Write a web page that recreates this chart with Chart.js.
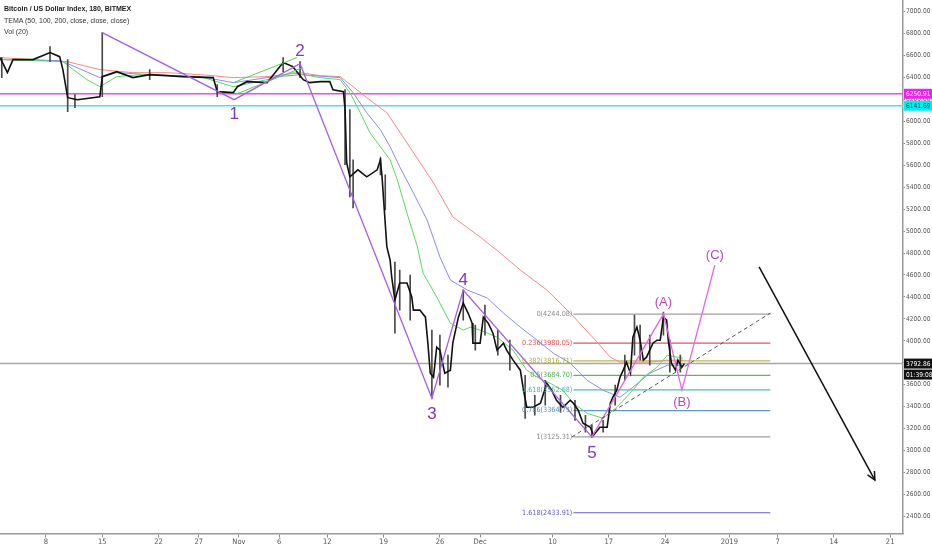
<!DOCTYPE html>
<html>
<head>
<meta charset="utf-8">
<script src="https://cdn.jsdelivr.net/npm/chart.js@4.4.1/dist/chart.umd.min.js"></script>
<style>
  html, body { margin: 0; padding: 0; background: #fff; overflow: hidden; }
  #wrap { position: relative; width: 932px; height: 550px; }
  #legend { position: absolute; left: 4px; top: 3px; color: #333;
            font: 7px "Liberation Sans", sans-serif; line-height: 11.5px; }
  #legend b { color: #222; }
</style>
</head>
<body>
<div id="wrap">
  <canvas id="chart" width="932" height="550"></canvas>
  <div id="legend">
    <div><b>Bitcoin / US Dollar Index, 180, BITMEX</b></div>
    <div>TEMA (50, 100, 200, close, close, close)</div>
    <div>Vol (20)</div>
  </div>
</div>
<script>
// x values are days counted from Oct 1 2018 (Oct 8 = 7, Nov 1 = 31, Dec 1 = 61, Jan 1 = 92)
var tickDays   = [7, 14, 21, 26, 31, 36, 42, 49, 56, 61, 70, 77, 84, 92, 98, 105, 112];
var tickLabels = ['8', '15', '22', '27', 'Nov', '6', '12', '19', '26', 'Dec', '10', '17', '24', '2019', '7', '14', '21'];
var priceTicks = [2400, 2600, 2800, 3000, 3200, 3400, 3600, 3800, 4000, 4200, 4400, 4600,
                  4800, 5000, 5200, 5400, 5600, 5800, 6000, 6200, 6400, 6600, 6800, 7000];

// BTC close (3h bars, sampled)
var closeDays = [1.3,2.2,2.9,5.4,7.5,8.7,9.1,9.7,10.9,13.7,
                 14.0,15.8,17.8,19.9,24.0,27.8,28.3,30.3,30.8,32.0,
                 34.5,36.5,37.7,39.0,39.8,41.1,42.3,42.7,44.0,44.2,
                 44.4,44.8,45.8,46.9,48.2,48.6,48.8,49.4,49.8,50.0,
                 50.4,51.0,51.9,52.5,52.7,53.5,54.2,54.5,54.8,55.2,
                 55.6,56.0,56.6,57.3,57.6,58.3,58.9,59.5,60.0,60.1,
                 61.0,61.4,62.0,62.6,63.1,63.9,64.3,65.1,66.0,66.4,
                 66.8,67.6,68.5,69.3,69.9,70.5,71.3,72.2,72.6,73.2,
                 73.8,74.7,75.1,75.9,76.8,77.2,77.5,78.0,78.4,78.8,
                 79.2,79.7,80.0,80.5,80.9,81.3,81.7,82.5,83.0,83.4,
                 83.8,84.2,84.4,84.8,85.3,85.6,86.1,86.4];
var closePrices = [6580,6443,6562,6562,6626,6589,6471,6215,6197,6224,
                   6407,6452,6398,6425,6407,6398,6270,6261,6315,6361,
                   6352,6535,6498,6379,6352,6361,6361,6288,6270,6106,
                   5622,5494,5558,5494,5558,5649,5494,4855,4737,4582,
                   4372,4527,4527,4399,4280,4280,4216,3979,3705,3669,
                   3942,3915,3705,3733,3979,4216,4344,4253,4162,3979,
                   3979,4216,4162,4070,3915,3979,3915,3824,3733,3550,
                   3395,3395,3432,3614,3550,3459,3395,3459,3432,3368,
                   3249,3213,3140,3213,3213,3432,3486,3550,3669,3733,
                   3806,3705,4033,4125,4006,3824,3851,3979,4006,4006,
                   4216,4189,4006,3796,3733,3824,3760,3793];

// candle wicks (low / high)
var wickDays  = [1.5,7.5,9.7,10.6,14.0,19.9,28.3,36.5,38.6,44.2,
                 44.8,45.2,48.6,49.2,50.4,51.0,52.3,55.0,56.0,57.0,
                 58.9,60.4,61.6,63.2,64.7,66.6,67.8,69.1,71.0,72.8,
                 74.1,74.9,76.3,77.8,79.0,80.2,80.9,82.1,83.8,84.6,85.9];
var wickHighs = [6580,6681,6562,6243,6808,6471,6334,6580,6544,6288,
                 6106,5649,5667,5512,4718,4645,4600,4098,4052,3870,
                 4463,4143,4326,4098,4006,3687,3504,3641,3504,3459,
                 3322,3231,3276,3596,3870,4235,4143,4052,4262,4006,3870];
var wickLows  = [6398,6544,6087,6124,6224,6379,6224,6452,6398,5604,
                 5312,5211,5512,5193,4070,4280,4189,3477,3596,3577,
                 4189,3915,4052,3870,3733,3294,3322,3413,3349,3276,
                 3167,3121,3167,3413,3641,3870,3824,3778,4052,3714,3714];

// TEMA 200 / 100 / 50
var tema200Days = [1.3,5.4,9.6,13.7,17.8,22.1,26.2,30.3,34.5,38.6,41.1,43.6,45.2,46.9,49.4,
                   51.9,55.2,57.6,61.0,63.5,66.0,69.3,72.2,75.1,77.2,78.4,82.1,84.3,86.3];
var tema200 = [6580,6562,6544,6471,6443,6443,6425,6398,6407,6443,6416,6407,6315,6215,6078,
               5804,5439,5129,4946,4800,4645,4463,4253,4025,3851,3806,3806,3824,3824];
var tema100Days = [1.3,8.7,10.0,13.7,15.8,19.9,26.2,30.3,34.5,38.6,43.6,45.2,46.9,48.6,49.8,51.0,52.7,
                   54.4,56.0,57.3,59.4,61.9,63.9,66.0,68.1,70.1,72.2,74.3,76.3,78.4,80.0,82.1,84.3,85.9];
var tema100 = [6562,6553,6516,6398,6443,6425,6407,6352,6398,6425,6398,6261,6078,5923,5768,5585,5348,
               5101,4764,4554,4463,4390,4253,4125,4006,3888,3797,3641,3550,3486,3577,3705,3778,3778];
var tema50Days = [1.3,9.1,10.4,12.1,13.7,15.8,18.7,26.2,30.3,34.5,37.7,41.1,43.6,44.8,46.1,47.3,48.6,
                  49.8,50.7,51.9,53.2,53.9,55.6,57.3,58.9,59.8,61.0,63.1,65.1,66.8,68.1,69.7,71.3,
                  72.6,74.3,76.3,78.0,80.0,81.3,83.0,84.3,85.5,86.2];
var tema50 = [6562,6544,6471,6379,6315,6407,6425,6407,6315,6379,6443,6398,6379,6261,6078,5895,5768,
              5649,5466,5165,4855,4618,4399,4161,4098,4125,4098,4034,3915,3733,3669,3614,3550,
              3432,3340,3295,3395,3550,3669,3760,3869,3851,3842];

// Elliott waves
var waveNames  = ['', '1', '2', '3', '4', '5'];
var waveDays   = [14.0, 30.4, 38.6, 55.0, 58.9, 74.9];
var wavePrices = [6808, 6197, 6525, 3477, 4463, 3125];
var abcNames   = ['', '(A)', '(B)', '(C)'];
var abcDays    = [74.9, 83.8, 86.1, 90.2];
var abcPrices  = [3125, 4244, 3553, 4691];
var channelDays  = [[30.3, 38.2], [30.5, 38.9]];
var channelPrices = [[6352, 6580], [6243, 6489]];

// fib retracement
var fibRatios = ['0', '0.236', '0.382', '0.5', '0.618', '0.786', '1', '1.618'];
var fibPrices = [4244.08, 3980.05, 3816.71, 3684.70, 3552.68, 3364.73, 3125.31, 2433.91];
var fibDays   = [72.6, 97.1];

// horizontal lines + projection
var hLinePrices = [6250.91, 6141.69, 3792.86];
var countdown   = '01:39:08';
var trendDays   = [72.4, 97.1];
var trendPrices = [3124, 4253];
var arrowDays   = [95.7, 110.1];
var arrowPrices = [4673, 2732];

var xMin = 1.28, xMax = 113.6;

function pts(xs, ys) {
  return xs.map(function (x, i) { return { x: x, y: ys[i] }; });
}

function lineSet(data, color, width, order, extra) {
  var ds = { type: 'line', data: data, borderColor: color, borderWidth: width,
             pointRadius: 0, tension: 0, fill: false, order: order };
  return Object.assign(ds, extra || {});
}

var fibColors = ['#a0a0a0', '#e05858', '#b8bb4e', '#5cb85c', '#4cc2b2', '#5a98cf', '#a0a0a0', '#6262c8'];
var fibText   = ['#8a8a8a', '#e05050', '#a9ac3a', '#4fae4f', '#3fb5a6', '#4f90c8', '#8a8a8a', '#5a5ac4'];
var hLineColors = ['#e650e6', '#4de3e3', '#a8a8a8'];
var tagColors   = [['#f020f0', '#fff'], ['#00eeee', '#234'], ['#111', '#fff']];
var smallFont = '"Liberation Sans Narrow", "DejaVu Sans Condensed", "Liberation Sans", sans-serif';

var datasets = [];

hLinePrices.forEach(function (p, i) {
  datasets.push(lineSet([{ x: xMin, y: p }, { x: xMax, y: p }], hLineColors[i], 1.5, 20));
});
fibPrices.forEach(function (p, i) {
  datasets.push(lineSet([{ x: fibDays[0], y: p }, { x: fibDays[1], y: p }], fibColors[i], 1.2, 19));
});
datasets.push(lineSet(pts(tema200Days, tema200), '#f28a8a', 1, 15));
datasets.push(lineSet(pts(tema100Days, tema100), '#8a8af2', 1, 14));
datasets.push(lineSet(pts(tema50Days, tema50), '#5ada5a', 1, 13));
datasets.push({
  type: 'bar',
  data: wickDays.map(function (d, i) { return { x: d, y: [wickLows[i], wickHighs[i]] }; }),
  backgroundColor: '#4a4a4a', barThickness: 1, order: 12
});
datasets.push(lineSet(pts(closeDays, closePrices), '#111', 1.6, 11));
channelDays.forEach(function (ds, i) {
  datasets.push(lineSet(pts(ds, channelPrices[i]), '#55d055', 1, 10));
});
datasets.push(lineSet(pts(waveDays, wavePrices), '#a45ee8', 1.3, 9));
datasets.push(lineSet(pts(abcDays, abcPrices), '#e466e4', 1.3, 8));
datasets.push(lineSet(pts(trendDays, trendPrices), '#555', 1, 7, { borderDash: [4, 3] }));
datasets.push(lineSet(pts(arrowDays, arrowPrices), '#111', 1.5, 6));

var overlay = {
  id: 'overlay',
  afterDatasetsDraw: function (chart) {
    var ctx = chart.ctx, area = chart.chartArea;
    var x = chart.scales.x, y = chart.scales.y;
    ctx.save();
    ctx.beginPath();
    ctx.rect(area.left, area.top, area.right - area.left, area.bottom - area.top);
    ctx.clip();

    // fib labels
    ctx.font = '7.2px ' + smallFont;
    ctx.textAlign = 'right';
    ctx.textBaseline = 'middle';
    fibPrices.forEach(function (p, i) {
      ctx.fillStyle = fibText[i];
      ctx.fillText(fibRatios[i] + '(' + p.toFixed(2) + ')', x.getPixelForValue(fibDays[0]) - 1, y.getPixelForValue(p));
    });

    // wave labels
    ctx.textAlign = 'center';
    ctx.font = '17px "Liberation Sans", sans-serif';
    ctx.fillStyle = '#8238b8';
    var waveOff = [0, 15, -12, 16, -10, 16];
    waveNames.forEach(function (n, i) {
      if (!n) return;
      ctx.fillText(n, x.getPixelForValue(waveDays[i]), y.getPixelForValue(wavePrices[i]) + waveOff[i]);
    });
    ctx.font = '13px "Liberation Sans", sans-serif';
    ctx.fillStyle = '#b548c0';
    var abcOff = [0, -12, 13, -10];
    abcNames.forEach(function (n, i) {
      if (!n) return;
      ctx.fillText(n, x.getPixelForValue(abcDays[i]), y.getPixelForValue(abcPrices[i]) + abcOff[i]);
    });

    // arrow head
    var x0 = x.getPixelForValue(arrowDays[0]), y0 = y.getPixelForValue(arrowPrices[0]);
    var x1 = x.getPixelForValue(arrowDays[1]), y1 = y.getPixelForValue(arrowPrices[1]);
    var a = Math.atan2(y1 - y0, x1 - x0);
    ctx.strokeStyle = '#111';
    ctx.lineWidth = 1.5;
    ctx.beginPath();
    ctx.moveTo(x1 - 9 * Math.cos(a - 0.45), y1 - 9 * Math.sin(a - 0.45));
    ctx.lineTo(x1, y1);
    ctx.lineTo(x1 - 9 * Math.cos(a + 0.45), y1 - 9 * Math.sin(a + 0.45));
    ctx.stroke();
    ctx.restore();
  },
  afterDraw: function (chart) {
    var ctx = chart.ctx, area = chart.chartArea, y = chart.scales.y;
    ctx.save();
    ctx.font = '6.6px ' + smallFont;
    ctx.textBaseline = 'middle';
    ctx.textAlign = 'left';
    var left = area.right + 1, w = chart.width - left;
    hLinePrices.forEach(function (p, i) {
      var py = y.getPixelForValue(p);
      ctx.fillStyle = tagColors[i][0];
      ctx.fillRect(left, py - 5, w, 10);
      ctx.fillStyle = tagColors[i][1];
      ctx.fillText(p.toFixed(2), left + 2, py + 0.5);
      if (i === 2) {
        ctx.fillStyle = tagColors[i][0];
        ctx.fillRect(left, py + 6, w, 10);
        ctx.fillStyle = tagColors[i][1];
        ctx.fillText(countdown, left + 2, py + 11.5);
      }
    });
    ctx.restore();
  }
};

new Chart(document.getElementById('chart'), {
  type: 'line',
  data: { datasets: datasets },
  options: {
    responsive: false,
    animation: false,
    layout: { padding: 0 },
    plugins: { legend: { display: false }, tooltip: { enabled: false } },
    scales: {
      x: {
        type: 'linear', position: 'bottom', min: xMin, max: xMax, offset: false,
        afterBuildTicks: function (axis) { axis.ticks = tickDays.map(function (v) { return { value: v }; }); },
        afterFit: function (axis) { axis.height = 16.5; axis.paddingLeft = 0; axis.paddingRight = 0; },
        grid: { drawOnChartArea: false, drawTicks: true, tickLength: 4, color: '#888', offset: false },
        border: { display: true, color: '#999', width: 1.5 },
        ticks: {
          autoSkip: false, maxRotation: 0, padding: 0, color: '#555',
          font: { family: smallFont, size: 7.5 },
          callback: function (v) { var i = tickDays.indexOf(v); return i < 0 ? '' : tickLabels[i]; }
        }
      },
      y: {
        type: 'linear', position: 'right', min: 2245, max: 7105,
        afterBuildTicks: function (axis) { axis.ticks = priceTicks.map(function (v) { return { value: v }; }); },
        afterFit: function (axis) { axis.width = 29; axis.paddingTop = 0; axis.paddingBottom = 0; },
        grid: { drawOnChartArea: false, drawTicks: true, tickLength: 2, color: '#888' },
        border: { display: true, color: '#999', width: 1.5 },
        ticks: {
          padding: 1, color: '#555',
          font: { family: smallFont, size: 6.6 },
          callback: function (v) { return v.toFixed(2); }
        }
      }
    }
  },
  plugins: [overlay]
});
</script>
</body>
</html>
